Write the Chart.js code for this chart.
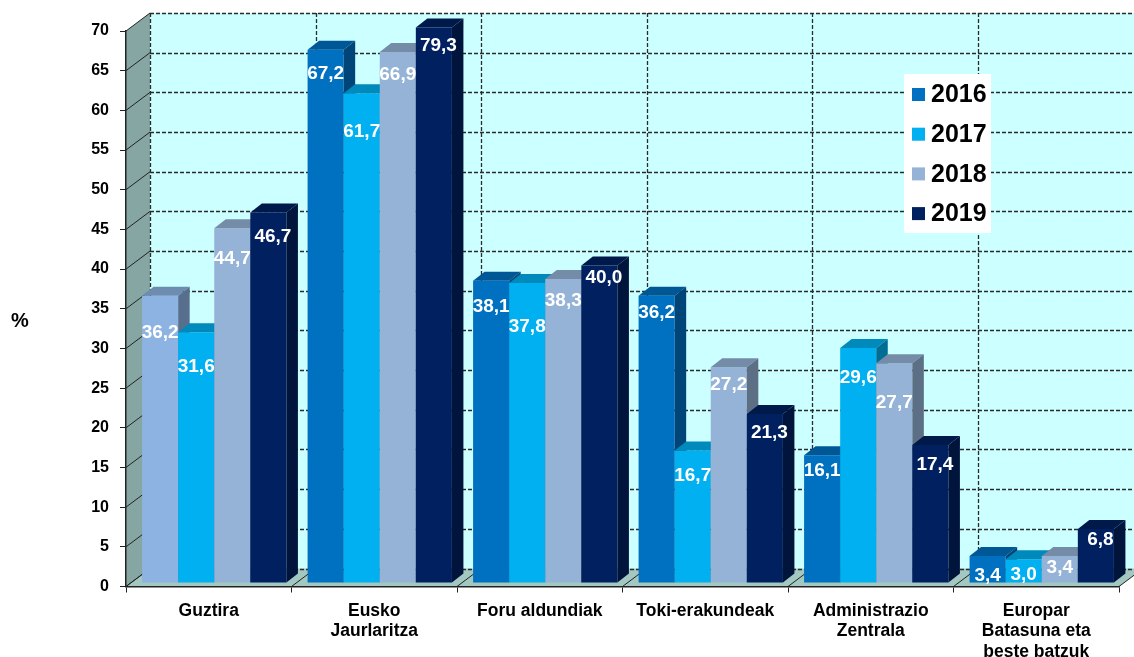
<!DOCTYPE html>
<html>
<head>
<meta charset="utf-8">
<title>Chart</title>
<script src="https://cdn.jsdelivr.net/npm/chart.js@4"></script>
<style>
    html, body { margin: 0; padding: 0; background: #fff; }
    canvas { display: block; }
</style>
</head>
<body>
<canvas id="grafico" width="1134" height="657"></canvas>
<script>
const categorias = ['Guztira', ['Eusko', 'Jaurlaritza'], 'Foru aldundiak', 'Toki-erakundeak', ['Administrazio', 'Zentrala'], ['Europar', 'Batasuna eta', 'beste batzuk']];
const urteak = ['2016', '2017', '2018', '2019'];
const datos2016 = [36.2, 67.2, 38.1, 36.2, 16.1, 3.4];
const datos2017 = [31.6, 61.7, 37.8, 16.7, 29.6, 3.0];
const datos2018 = [44.7, 66.9, 38.3, 27.2, 27.7, 3.4];
const datos2019 = [46.7, 79.3, 40.0, 21.3, 17.4, 6.8];
const series = [datos2016, datos2017, datos2018, datos2019];

const colores = ['#0070C0', '#00B0F0', '#95B3D7', '#002060'];
const colorPrimeraBarra = '#8DB3E2'; // the Guztira 2016 bar is lighter in the original

// px below the top of each bar where the value sits, the original has them by hand
const bajadaEtiqueta = [
    [37, 24, 26, 17, 16, 20],
    [35, 38, 44, 25, 30, 16],
    [30, 23, 22, 18, 40, 12],
    [24, 18, 12, 19, 20, 11]
];
const ladoEtiqueta = [0, 0, 0, 4.5];

// fake 3D
const fondoX = 24, fondoY = 18;     // depth of the box
const barraX = 5.5, barraY = 3.5;   // bars stand a little inside the floor
const caraX = 11.5, caraY = 9;      // depth of each bar

function oscurecer(hex, f) {
    var n = parseInt(hex.slice(1), 16);
    var r = Math.round((n >> 16) * f), g = Math.round(((n >> 8) & 255) * f), b = Math.round((n & 255) * f);
    return `rgb(${r},${g},${b})`;
}

function poligono(ctx, puntos, color) {
    ctx.fillStyle = color;
    ctx.beginPath();
    puntos.forEach(function(p, i) {
        if (i === 0) ctx.moveTo(p[0], p[1]); else ctx.lineTo(p[0], p[1]);
    });
    ctx.closePath();
    ctx.fill();
}

const caja3d = {
    id: 'caja3d',
    beforeDraw(chart) {
        const ctx = chart.ctx, a = chart.chartArea;
        const yEje = chart.scales.y;
        const anchoCat = (a.right - a.left) / categorias.length;
        ctx.save();
        poligono(ctx, [[a.left + fondoX, a.top - fondoY], [chart.width, a.top - fondoY], [chart.width, a.bottom - fondoY], [a.left + fondoX, a.bottom - fondoY]], '#CCFFFF');
        poligono(ctx, [[a.left, a.top], [a.left + fondoX, a.top - fondoY], [a.left + fondoX, a.bottom - fondoY], [a.left, a.bottom]], '#86A6A4');
        poligono(ctx, [[a.left, a.bottom], [a.left + fondoX, a.bottom - fondoY], [a.right + fondoX, a.bottom - fondoY], [a.right, a.bottom]], '#A3C7C1');

        // dashed lines on the back wall
        ctx.strokeStyle = '#2b2b2b';
        ctx.lineWidth = 1.3;
        ctx.setLineDash([4, 2]);
        yEje.ticks.forEach(function(t) {
            var y = Math.round(yEje.getPixelForValue(t.value) - fondoY) + 0.5;
            ctx.beginPath();
            ctx.moveTo(a.left + fondoX, y);
            ctx.lineTo(chart.width, y);
            ctx.stroke();
        });
        for (var i = 0; i <= categorias.length; i++) {
            var x = Math.round(a.left + anchoCat * i + fondoX) + 0.5;
            ctx.beginPath();
            ctx.moveTo(x, a.top - fondoY);
            ctx.lineTo(x, a.bottom - fondoY);
            ctx.stroke();
        }

        // solid lines on the side wall and floor
        ctx.setLineDash([]);
        ctx.lineWidth = 1;
        ctx.strokeStyle = '#222';
        yEje.ticks.forEach(function(t) {
            var y = yEje.getPixelForValue(t.value);
            ctx.beginPath();
            ctx.moveTo(a.left, y);
            ctx.lineTo(a.left + fondoX, y - fondoY);
            ctx.stroke();
        });
        for (var j = 0; j <= categorias.length; j++) {
            var xs = a.left + anchoCat * j;
            ctx.beginPath();
            ctx.moveTo(xs, a.bottom);
            ctx.lineTo(xs + fondoX, a.bottom - fondoY);
            ctx.stroke();
        }
        ctx.restore();
    },
    // Chart.js paints the last dataset first; here 2016 has to go first,
    // so the next bar covers its side face. They are all drawn further down.
    beforeDatasetDraw() {
        return false;
    },
    afterDatasetsDraw(chart) {
        const ctx = chart.ctx, a = chart.chartArea;

        ctx.save();
        ctx.translate(barraX, -barraY);
        series.forEach(function(valores, d) {
            var meta = chart.getDatasetMeta(d);
            ctx.save();
            ctx.beginPath();
            ctx.rect(a.left, a.top, chart.width, a.bottom - a.top);
            ctx.clip();
            meta.controller.draw();
            ctx.restore();
            meta.data.forEach(function(barra, i) {
                var izq = barra.x - barra.width / 2, der = barra.x + barra.width / 2;
                var arriba = Math.max(barra.y, a.top), abajo = barra.base;
                var color = chart.data.datasets[d].backgroundColor[i];
                poligono(ctx, [[izq, arriba], [izq + caraX, arriba - caraY], [der + caraX, arriba - caraY], [der, arriba]], oscurecer(color, 0.78));
                poligono(ctx, [[der, arriba], [der + caraX, arriba - caraY], [der + caraX, abajo - caraY], [der, abajo]], oscurecer(color, 0.62));
            });
        });
        ctx.restore();

        ctx.save();
        // values
        ctx.fillStyle = '#fff';
        ctx.font = 'bold 19px "Liberation Sans"';
        ctx.textAlign = 'center';
        ctx.textBaseline = 'middle';
        series.forEach(function(valores, d) {
            var meta = chart.getDatasetMeta(d);
            valores.forEach(function(v, i) {
                var barra = meta.data[i];
                var y = Math.max(barra.y, a.top) - barraY + bajadaEtiqueta[d][i];
                ctx.fillText(v.toFixed(1).replace('.', ','), barra.x + barraX + ladoEtiqueta[d], y);
            });
        });

        // legend
        ctx.fillStyle = '#fff';
        ctx.fillRect(904, 74, 87, 159);
        ctx.font = 'bold 25px "Liberation Sans"';
        ctx.textAlign = 'left';
        urteak.forEach(function(urtea, i) {
            var y = 94.5 + i * 39.7;
            ctx.fillStyle = colores[i];
            ctx.fillRect(912, y - 6.5, 13, 13);
            ctx.fillStyle = '#000';
            ctx.fillText(urtea, 931, y + 1);
        });

        // axis unit
        ctx.font = 'bold 20px "Liberation Sans"';
        ctx.fillStyle = '#000';
        ctx.textAlign = 'center';
        ctx.fillText('%', 20, 321);
        ctx.restore();
    }
};

const conjuntos = series.map(function(valores, d) {
    return {
        label: urteak[d],
        data: valores,
        backgroundColor: valores.map(function(v, i) {
            return d === 0 && i === 0 ? colorPrimeraBarra : colores[d];
        }),
        borderWidth: 0,
        categoryPercentage: 0.872,
        barPercentage: 1
    };
});

new Chart(document.getElementById('grafico'), {
    type: 'bar',
    data: { labels: categorias, datasets: conjuntos },
    plugins: [caja3d],
    options: {
        responsive: false,
        animation: false,
        layout: { padding: { left: 0, right: 15, top: 31, bottom: 0 } },
        plugins: { legend: { display: false }, tooltip: { enabled: false } },
        scales: {
            x: {
                afterFit: function(s) { s.height = 70.5; },
                grid: { drawOnChartArea: false, color: '#222', tickLength: 6 },
                border: { color: '#222', width: 1.5 },
                ticks: {
                    color: '#000',
                    padding: 8,
                    maxRotation: 0,
                    autoSkip: false,
                    font: { family: '"Liberation Sans"', weight: 'bold', size: 17.5, lineHeight: 1.17 }
                }
            },
            y: {
                min: 0,
                max: 70,
                afterFit: function(s) { s.width = 126; },
                grid: { drawOnChartArea: false, color: '#222', tickLength: 6 },
                border: { color: '#222', width: 1.5 },
                ticks: {
                    stepSize: 5,
                    color: '#000',
                    padding: 11,
                    font: { family: '"Liberation Sans"', weight: 'bold', size: 16 }
                }
            }
        }
    }
});
</script>
</body>
</html>
